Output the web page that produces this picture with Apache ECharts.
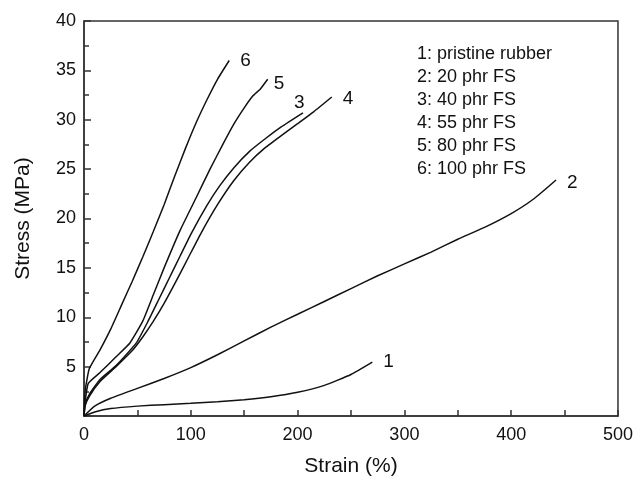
<!DOCTYPE html>
<html>
<head>
<meta charset="utf-8">
<script src="https://cdn.jsdelivr.net/npm/echarts@6/dist/echarts.min.js"></script>
<style>
  html, body { margin: 0; padding: 0; background: #fff; }
  #chart { width: 636px; height: 482px; }
</style>
</head>
<body>
<div id="chart"></div>
<script>
// strain (%) / stress (MPa)
const curve1 = [[0,0],[10,0.4],[25,0.75],[50,1.0],[75,1.15],[100,1.28],[125,1.45],[150,1.65],[175,1.95],[200,2.4],[225,3.1],[250,4.2],[270,5.45]]
const curve2 = [[0,0],[10,1.0],[25,1.8],[50,2.8],[75,3.8],[100,4.9],[125,6.2],[150,7.6],[175,9.0],[200,10.3],[225,11.6],[250,12.9],[275,14.2],[300,15.4],[325,16.6],[350,17.9],[375,19.1],[400,20.5],[420,21.9],[442,23.9]]
const curve3 = [[0,0],[1,1.2],[5,2.2],[15,3.7],[30,5.1],[49,7.4],[60,9.6],[70,11.8],[80,14.0],[90,16.2],[100,18.4],[115,21.3],[127,23.3],[140,25.1],[155,26.8],[170,28.1],[185,29.3],[205,30.7]]
const curve4 = [[0,0],[1,1.0],[5,2.0],[15,3.5],[30,5.0],[45,6.6],[55,8.0],[65,9.6],[75,11.4],[86,13.6],[98,16.1],[110,18.6],[125,21.4],[140,23.8],[155,25.7],[170,27.2],[186,28.5],[200,29.6],[215,30.8],[232,32.3]]
const curve5 = [[0,0],[1,1.4],[4,3.3],[15,4.4],[30,6.0],[43,7.4],[55,9.6],[65,12.3],[75,15.0],[90,18.8],[105,22.1],[118,25.0],[130,27.5],[140,29.5],[150,31.2],[158,32.4],[165,33.1],[172,34.1]]
const curve6 = [[0,0],[1,2.5],[5,4.8],[15,6.7],[25,8.8],[35,11.2],[45,13.6],[55,16.1],[65,18.7],[75,21.4],[85,24.3],[95,27.1],[105,29.7],[115,32.0],[125,34.1],[136,36.0]]

const curveNames = ['1', '2', '3', '4', '5', '6']
const legendLines = ['1: pristine rubber', '2: 20 phr FS', '3: 40 phr FS', '4: 55 phr FS', '5: 80 phr FS', '6: 100 phr FS']

const font = '"Liberation Sans", Arial, sans-serif'
const ink = '#111'

const chartDom = document.getElementById('chart')
const myChart = echarts.init(chartDom)

// where each end number sits relative to the end of its curve
const labelOffsets = [[3, 0], [3, 3], [-17, -10], [3, 2], [-2, 5], [3, 0]]
const allCurves = [curve1, curve2, curve3, curve4, curve5, curve6]

const series = allCurves.map((data, i) => ({
  name: curveNames[i],
  type: 'line',
  data: data,
  smooth: 0.15,
  symbol: 'none',
  lineStyle: { color: ink, width: 1.5 },
  endLabel: {
    show: true,
    formatter: curveNames[i],
    color: ink,
    fontFamily: font,
    fontSize: 19,
    offset: labelOffsets[i]
  },
  silent: true
}))

const option = {
  backgroundColor: '#fff',
  animation: false,
  grid: {
    left: 84, right: 16, top: 21, bottom: 62,
    show: true,
    borderColor: '#333',
    borderWidth: 1.5
  },
  xAxis: {
    type: 'value',
    min: 0, max: 500, interval: 100,
    name: 'Strain (%)',
    nameLocation: 'middle',
    nameGap: 40,
    nameTextStyle: { fontSize: 21, fontFamily: font, color: ink },
    axisLine: { show: true, lineStyle: { color: '#333', width: 1.5 } },
    axisTick: { inside: true, length: 6, lineStyle: { color: '#333', width: 1.5 } },
    minorTick: { show: true, splitNumber: 2, length: 6, lineStyle: { color: '#333', width: 1.5 } },
    axisLabel: { fontSize: 18, fontFamily: font, color: ink, margin: 10 },
    splitLine: { show: false }
  },
  yAxis: {
    type: 'value',
    min: 0, max: 40, interval: 5,
    name: 'Stress (MPa)',
    nameLocation: 'middle',
    nameGap: 50,
    nameTextStyle: { fontSize: 21, fontFamily: font, color: ink },
    axisLine: { show: true, lineStyle: { color: '#333', width: 1.5 } },
    axisTick: { inside: true, length: 7, lineStyle: { color: '#333', width: 1.5 } },
    minorTick: { show: true, splitNumber: 2, length: 5, lineStyle: { color: '#333', width: 1.5 } },
    axisLabel: {
      fontSize: 18, fontFamily: font, color: ink, margin: 8,
      formatter: v => (v === 0 ? '' : v)
    },
    splitLine: { show: false }
  },
  graphic: [{
    type: 'text',
    left: 417,
    top: 43,
    style: {
      text: legendLines.join('\n'),
      fill: ink,
      font: '18px ' + font,
      lineHeight: 23
    }
  }],
  series: series
}

option && myChart.setOption(option)
</script>
</body>
</html>
